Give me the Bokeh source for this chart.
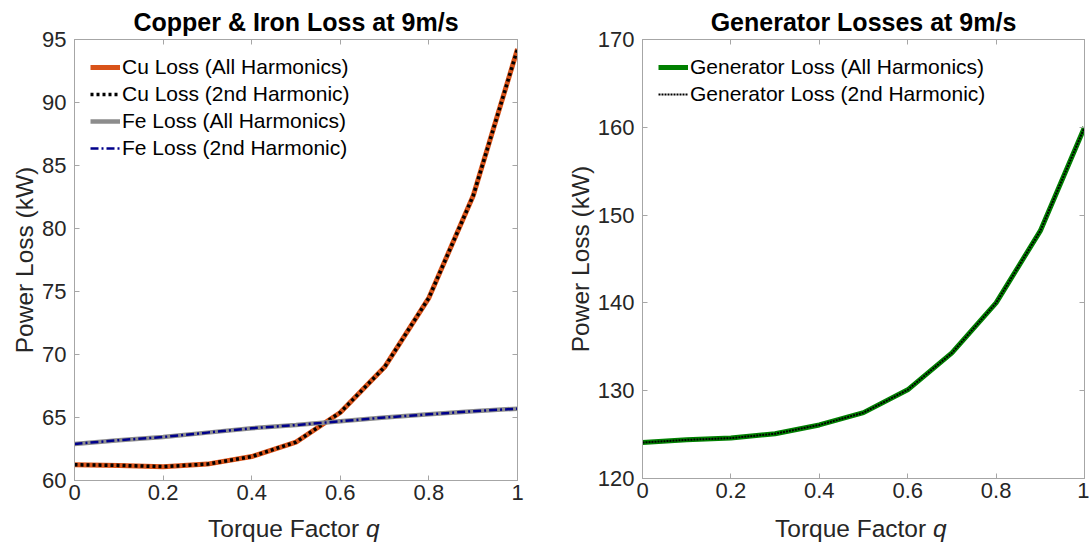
from bokeh.plotting import figure
from bokeh.layouts import row, column
from bokeh.models import (Range1d, LinearAxis, FixedTicker, Legend, LegendItem, Div,
                          CustomLabelingPolicy)
from bokeh.embed import file_html
from bokeh.resources import INLINE

# ---- data ----
q = [0.0, 0.1, 0.2, 0.3, 0.4, 0.5, 0.6, 0.7, 0.8, 0.9, 1.0]
cu_all = [61.25, 61.2, 61.1, 61.3, 61.9, 63.05, 65.4, 69.0, 74.5, 82.6, 94.25]
cu_2nd = [61.25, 61.2, 61.1, 61.3, 61.9, 63.05, 65.4, 69.0, 74.5, 82.6, 94.25]
fe_all = [62.9, 63.2, 63.45, 63.8, 64.15, 64.4, 64.7, 65.0, 65.25, 65.5, 65.7]
fe_2nd = [62.9, 63.2, 63.45, 63.8, 64.15, 64.4, 64.7, 65.0, 65.25, 65.5, 65.7]
gen_all = [124.1, 124.4, 124.6, 125.1, 126.1, 127.5, 130.1, 134.3, 140.0, 148.2, 160.0]
gen_2nd = [124.1, 124.4, 124.6, 125.1, 126.1, 127.5, 130.1, 134.3, 140.0, 148.2, 160.0]

x_ticks = [0, 0.2, 0.4, 0.6, 0.8, 1]
left_yticks = [60, 65, 70, 75, 80, 85, 90, 95]
right_yticks = [120, 130, 140, 150, 160, 170]

titles = ["Copper & Iron Loss at 9m/s", "Generator Losses at 9m/s"]
ylabel = "Power Loss (kW)"
xlabel_main = "Torque Factor"
xlabel_var = "q"

FONT = "Liberation Sans"
TXT = "#262626"
AX = "#a6a6a6"

NO_LABELS = CustomLabelingPolicy(code="""
for (const i of indices) { indices.unset(i) }
return indices
""")


def make_fig(title, yr, yticks, borders, fw, fh):
    bl, br, bt, bb = borders
    p = figure(frame_width=fw, frame_height=fh,
               x_range=Range1d(0, 1), y_range=Range1d(*yr),
               output_backend="svg", toolbar_location=None,
               min_border_left=bl, min_border_right=br,
               min_border_top=bt, min_border_bottom=bb,
               title=title)
    p.title.text_font = FONT
    p.title.text_font_size = "25px"
    p.title.text_font_style = "bold"
    p.title.text_color = "black"
    p.title.align = "center"
    p.title.standoff = 8
    p.grid.visible = False
    p.outline_line_color = AX
    p.background_fill_color = "white"
    p.border_fill_color = "white"

    for ax in [p.xaxis[0], p.yaxis[0]]:
        ax.axis_line_color = AX
        ax.major_tick_line_color = AX
        ax.major_tick_in = 5
        ax.major_tick_out = 0
        ax.minor_tick_line_color = None
        ax.major_label_text_font = FONT
        ax.major_label_text_font_size = "22px"
        ax.major_label_text_color = TXT
        ax.axis_label_text_font = FONT
        ax.axis_label_text_font_size = "24.5px"
        ax.axis_label_text_font_style = "normal"
        ax.axis_label_text_color = TXT
    p.xaxis[0].ticker = FixedTicker(ticks=x_ticks)
    p.xaxis[0].major_label_overrides = {0: "0", 1: "1"}
    p.xaxis[0].major_label_standoff = 4
    p.yaxis[0].ticker = FixedTicker(ticks=yticks)
    p.yaxis[0].major_label_standoff = 8
    p.yaxis[0].axis_label = ylabel
    p.yaxis[0].axis_label_standoff = 1

    # mirrored tick axes (box)
    top = LinearAxis(ticker=FixedTicker(ticks=x_ticks), major_label_policy=NO_LABELS)
    right = LinearAxis(ticker=FixedTicker(ticks=yticks), major_label_policy=NO_LABELS)
    for ax in [top, right]:
        ax.axis_line_color = AX
        ax.major_tick_line_color = AX
        ax.major_tick_in = 5
        ax.major_tick_out = 0
        ax.minor_tick_line_color = None
        ax.major_label_text_font_size = "0px"
        ax.major_label_standoff = 0
    p.add_layout(top, "above")
    p.add_layout(right, "right")
    return p


def style_legend(items):
    return Legend(items=items, location="top_left",
                  border_line_alpha=0, background_fill_alpha=0,
                  label_text_font=FONT, label_text_font_size="21px",
                  label_text_color="black",
                  glyph_width=30, glyph_height=20, label_height=20,
                  spacing=3, label_standoff=2, margin=10, padding=6)


def xlabel_div(width, pad_left):
    html = (f'<div style="font-family:\'{FONT}\';font-size:24.5px;color:{TXT};'
            f'white-space:nowrap;padding-left:{pad_left}px;padding-top:1px;line-height:28px;">'
            f'{xlabel_main} <i>{xlabel_var}</i></div>')
    return Div(text=html, width=width, height=40, margin=(0, 0, 0, 0))


# ---- left figure ----
p1 = make_fig(titles[0], (60, 95), left_yticks, (74, 28, 38, 35), 443, 441)
r1 = p1.line(q, cu_all, line_color="#D95319", line_width=5)
r2 = p1.line(q, cu_2nd, line_color="black", line_width=3.5, line_dash="3 3")
r3 = p1.line(q, fe_all, line_color="#8c8c8c", line_width=4.5)
r4 = p1.line(q, fe_2nd, line_color="#00008B", line_width=2.5, line_dash="8 3 2 3")
p1.add_layout(style_legend([
    LegendItem(label="Cu Loss (All Harmonics)", renderers=[r1]),
    LegendItem(label="Cu Loss (2nd Harmonic)", renderers=[r2]),
    LegendItem(label="Fe Loss (All Harmonics)", renderers=[r3]),
    LegendItem(label="Fe Loss (2nd Harmonic)", renderers=[r4]),
]))

# ---- right figure ----
p2 = make_fig(titles[1], (120, 170), right_yticks, (97, 5, 39, 36), 442, 439)
g1 = p2.line(q, gen_all, line_color="#008000", line_width=5)
g2 = p2.line(q, gen_2nd, line_color="black", line_width=2, line_dash="2 1")
p2.add_layout(style_legend([
    LegendItem(label="Generator Loss (All Harmonics)", renderers=[g1]),
    LegendItem(label="Generator Loss (2nd Harmonic)", renderers=[g2]),
]))

d1 = xlabel_div(545, 208)
d2 = xlabel_div(544, 230)

layout = column(row(p1, p2, spacing=0), row(d1, d2, spacing=0), spacing=0)
open("out.html", "w").write(file_html(layout, INLINE))
